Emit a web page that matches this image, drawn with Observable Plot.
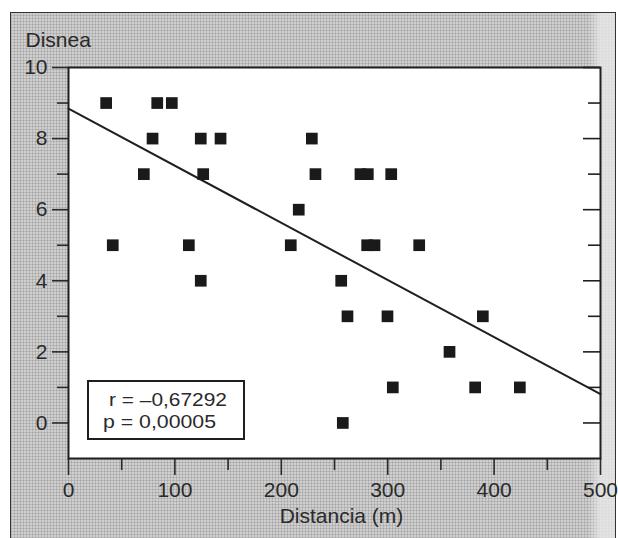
<!DOCTYPE html>
<html><head><meta charset="utf-8">
<script src="https://cdn.jsdelivr.net/npm/d3@7"></script>
<script src="https://cdn.jsdelivr.net/npm/@observablehq/plot@0.6"></script>
<style>
html,body{margin:0;padding:0;background:#fff;}
#wrap{position:relative;width:618px;height:538px;overflow:hidden;}
#bg{position:absolute;left:10px;top:12px;width:604px;height:540px;border:1.5px solid #333;
 background-color:#cfcfcf;
 background-image:
  linear-gradient(90deg, rgba(232,232,232,0) 0, rgba(232,232,232,0) 95.5%, rgba(232,232,232,0.8) 97.5%),
  repeating-linear-gradient(0deg, rgba(0,0,0,.11) 0 1px, transparent 1px 3px),
  repeating-linear-gradient(90deg, rgba(0,0,0,.11) 0 1px, transparent 1px 3px);}
#chart{position:absolute;left:0;top:0;}
</style></head><body>
<div id="wrap"><div id="bg"></div><div id="chart"></div></div>
<script>
// Distance walked (m) and dyspnoea score
const distancia = [35.4, 83.4, 97.1, 79, 124.3, 142.9, 228.7, 70.8, 126.6, 232.1, 274.4, 281.3, 303.3, 216.4,
                   41.6, 113.1, 208.9, 280.7, 287.6, 329.6, 124.3, 256.3, 262.2, 299.8, 389.4, 358.1, 304.8, 382.2, 424.2, 257.8];
const disnea    = [9, 9, 9, 8, 8, 8, 8, 7, 7, 7, 7, 7, 7, 6,
                   5, 5, 5, 5, 5, 5, 4, 4, 3, 3, 3, 2, 1, 1, 1, 0];
const yMajor = [0, 2, 4, 6, 8, 10];
const yMinor = [1, 3, 5, 7, 9];
const xMajor = [0, 100, 200, 300, 400, 500];
const xMinor = [50, 150, 250, 350, 450];
const statLines = ["r = \u20130,67292", "p = 0,00005"];
const yLabel = "Disnea";
const xLabel = "Distancia (m)";

const data = distancia.map((x, i) => ({x, y: disnea[i]}));
const mx = d3.mean(distancia), my = d3.mean(disnea);
const slope = d3.sum(data, d => (d.x - mx) * (d.y - my)) / d3.sum(data, d => (d.x - mx) ** 2);
const intercept = my - slope * mx;
const fit = d3.extent(xMajor).map(x => ({x, y: intercept + slope * x}));

const ink = "#1f1f1f";

function statBox(index, scales, values, dims) {
  const g = d3.create("svg:g");
  const x0 = dims.marginLeft + 20, y0 = dims.height - dims.marginBottom - 77;
  g.append("rect").attr("x", x0).attr("y", y0).attr("width", 156).attr("height", 58)
    .attr("fill", "white").attr("stroke", ink).attr("stroke-width", 2);
  g.selectAll("text").data(statLines).join("text")
    .attr("x", (d, i) => x0 + (i ? 15 : 21))
    .attr("y", (d, i) => y0 + 25 + i * 21.5)
    .attr("text-anchor", "start")
    .attr("font-size", "19px")
    .attr("textLength", (d, i) => i ? 113 : 118)
    .attr("lengthAdjust", "spacingAndGlyphs")
    .attr("fill", "#2a2a2a")
    .text(d => d);
  return g.node();
}

const chart = Plot.plot({
  width: 618, height: 538,
  marginLeft: 68, marginRight: 18, marginTop: 67, marginBottom: 80,
  x: {domain: d3.extent(xMajor)},
  y: {domain: [-1, 10]},
  style: {background: "transparent", fontFamily: "'Liberation Sans', Arial, sans-serif", fontSize: "21px", color: "#2a2a2a", overflow: "visible"},
  marks: [
    Plot.frame({fill: "white"}),
    Plot.axisY(yMajor, {anchor: "left", tickSize: 16, tickPadding: 5, strokeWidth: 1.6, label: null}),
    Plot.axisY(yMinor, {anchor: "left", tickSize: 11, tickFormat: () => "", strokeWidth: 1.6, label: null}),
    Plot.tickY(yMajor, {y: d => d, insetLeft: 515, stroke: ink, strokeWidth: 1.6}),
    Plot.tickY(yMinor, {y: d => d, insetLeft: 520, stroke: ink, strokeWidth: 1.6}),
    Plot.axisX(xMajor, {anchor: "bottom", tickSize: 17, tickPadding: 7, strokeWidth: 1.6, label: null}),
    Plot.axisX(xMinor, {anchor: "bottom", tickSize: 12, tickFormat: () => "", strokeWidth: 1.6, label: null}),
    Plot.line(fit, {x: "x", y: "y", stroke: ink, strokeWidth: 2}),
    Plot.dot(data, {x: "x", y: "y", symbol: "square", r: 6.6, fill: "#1a1a1a"}),
    statBox,
    Plot.frame({stroke: ink, strokeWidth: 2}),
    Plot.text([yLabel], {frameAnchor: "top-left", textAnchor: "start", lineAnchor: "bottom", dx: -43, dy: -21}),
    Plot.text([xLabel], {frameAnchor: "bottom", lineAnchor: "top", dy: 50, dx: 7})
  ]
});
document.getElementById("chart").append(chart);
</script>
</body></html>
